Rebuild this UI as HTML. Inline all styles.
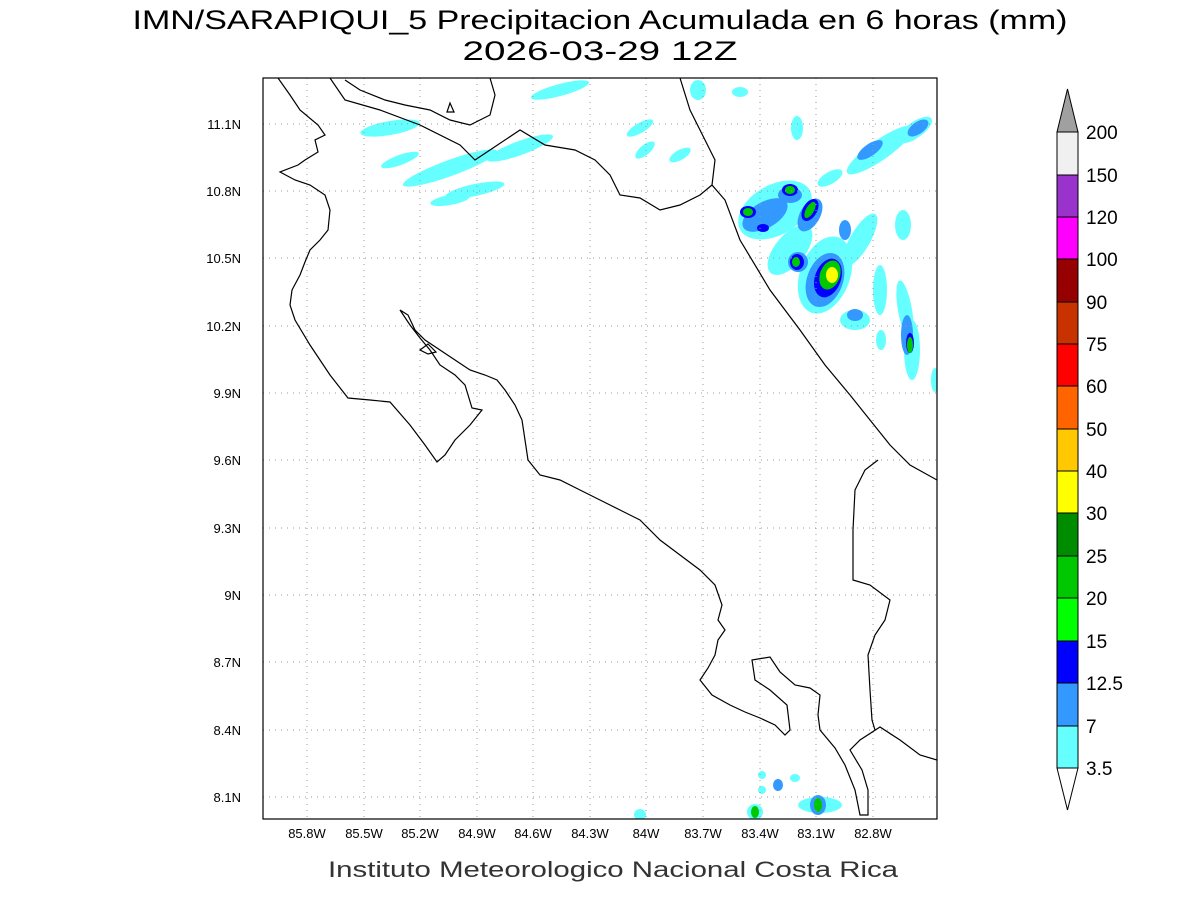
<!DOCTYPE html>
<html><head><meta charset="utf-8"><style>
body{margin:0;background:#fff;width:1200px;height:900px;overflow:hidden}
svg{display:block}
text{font-family:"Liberation Sans",sans-serif}
</style></head><body>
<svg width="1200" height="900" viewBox="0 0 1200 900">
<text x="600" y="29" text-anchor="middle" font-size="27" fill="#000" textLength="935" lengthAdjust="spacingAndGlyphs">IMN/SARAPIQUI_5 Precipitacion Acumulada en 6 horas (mm)</text>
<text x="600" y="60" text-anchor="middle" font-size="27" textLength="275" lengthAdjust="spacingAndGlyphs">2026-03-29 12Z</text>
<defs><clipPath id="c"><rect x="263" y="78" width="674" height="741"/></clipPath></defs>
<g clip-path="url(#c)">
<g fill="#66ffff">
<ellipse cx="390" cy="128" rx="30" ry="7" transform="rotate(-10 390 128)"/>
<ellipse cx="400" cy="160" rx="20" ry="5" transform="rotate(-20 400 160)"/>
<ellipse cx="450" cy="168" rx="50" ry="8" transform="rotate(-20 450 168)"/>
<ellipse cx="520" cy="148" rx="35" ry="7" transform="rotate(-20 520 148)"/>
<ellipse cx="475" cy="190" rx="30" ry="6" transform="rotate(-12 475 190)"/>
<ellipse cx="450" cy="200" rx="20" ry="5" transform="rotate(-10 450 200)"/>
<ellipse cx="560" cy="90" rx="30" ry="6" transform="rotate(-15 560 90)"/>
<ellipse cx="640" cy="128" rx="15" ry="5" transform="rotate(-30 640 128)"/>
<ellipse cx="645" cy="150" rx="12" ry="5" transform="rotate(-40 645 150)"/>
<ellipse cx="680" cy="155" rx="12" ry="5" transform="rotate(-30 680 155)"/>
<ellipse cx="698" cy="90" rx="8" ry="10"/>
<ellipse cx="740" cy="92" rx="8" ry="5"/>
<ellipse cx="797" cy="128" rx="6" ry="12"/>
<ellipse cx="830" cy="178" rx="14" ry="6" transform="rotate(-30 830 178)"/>
<ellipse cx="880" cy="150" rx="40" ry="10" transform="rotate(-35 880 150)"/>
<ellipse cx="915" cy="130" rx="20" ry="8" transform="rotate(-35 915 130)"/>
<ellipse cx="775" cy="210" rx="40" ry="25" transform="rotate(-30 775 210)"/>
<ellipse cx="790" cy="250" rx="30" ry="15" transform="rotate(-50 790 250)"/>
<ellipse cx="825" cy="275" rx="25" ry="40" transform="rotate(20 825 275)"/>
<ellipse cx="860" cy="240" rx="10" ry="30" transform="rotate(30 860 240)"/>
<ellipse cx="880" cy="290" rx="7" ry="25"/>
<ellipse cx="905" cy="310" rx="7" ry="30" transform="rotate(-10 905 310)"/>
<ellipse cx="912" cy="350" rx="8" ry="30"/>
<ellipse cx="855" cy="320" rx="15" ry="10"/>
<ellipse cx="903" cy="225" rx="8" ry="15"/>
<ellipse cx="935" cy="380" rx="4" ry="12"/>
<ellipse cx="881" cy="340" rx="5" ry="10"/>
<ellipse cx="640" cy="815" rx="6" ry="6"/>
<ellipse cx="755" cy="812" rx="8" ry="8"/>
<ellipse cx="762" cy="790" rx="4" ry="4"/><ellipse cx="762" cy="775" rx="4" ry="4"/>
<ellipse cx="795" cy="778" rx="5" ry="4"/>
<ellipse cx="820" cy="805" rx="22" ry="8"/>
</g>
<g fill="#3399ff">
<ellipse cx="765" cy="215" rx="25" ry="13" transform="rotate(-30 765 215)"/>
<ellipse cx="790" cy="195" rx="12" ry="8"/>
<ellipse cx="810" cy="215" rx="10" ry="18" transform="rotate(30 810 215)"/>
<ellipse cx="825" cy="280" rx="18" ry="28" transform="rotate(20 825 280)"/>
<ellipse cx="798" cy="262" rx="10" ry="10"/>
<ellipse cx="845" cy="230" rx="6" ry="10"/>
<ellipse cx="907" cy="335" rx="6" ry="20"/>
<ellipse cx="870" cy="150" rx="15" ry="6" transform="rotate(-35 870 150)"/>
<ellipse cx="918" cy="128" rx="12" ry="6" transform="rotate(-35 918 128)"/>
<ellipse cx="855" cy="315" rx="8" ry="6"/>
<ellipse cx="778" cy="785" rx="5" ry="6"/>
<ellipse cx="818" cy="805" rx="8" ry="10"/>
</g>
<g fill="#0000ff">
<ellipse cx="748" cy="212" rx="8" ry="6"/><ellipse cx="790" cy="190" rx="8" ry="6"/>
<ellipse cx="810" cy="210" rx="7" ry="12" transform="rotate(30 810 210)"/>
<ellipse cx="828" cy="278" rx="13" ry="20" transform="rotate(20 828 278)"/>
<ellipse cx="797" cy="262" rx="7" ry="8"/><ellipse cx="910" cy="343" rx="4" ry="10"/>
<ellipse cx="763" cy="228" rx="6" ry="4"/>
</g>
<g fill="#00c800">
<ellipse cx="748" cy="212" rx="5" ry="4"/><ellipse cx="790" cy="190" rx="5" ry="4"/>
<ellipse cx="810" cy="210" rx="4" ry="9" transform="rotate(30 810 210)"/>
<ellipse cx="830" cy="275" rx="10" ry="15" transform="rotate(20 830 275)"/>
<ellipse cx="796" cy="262" rx="4" ry="5"/><ellipse cx="910" cy="345" rx="3" ry="8"/>
<ellipse cx="755" cy="812" rx="4" ry="6"/><ellipse cx="818" cy="805" rx="4" ry="7"/>
</g>
<ellipse cx="832" cy="275" rx="6" ry="8" fill="#ffff00"/>
<g stroke="#999" stroke-dasharray="1,5" stroke-width="1">
<path d="M307 78V819M364 78V819M420 78V819M477 78V819M533 78V819M590 78V819M646 78V819M703 78V819M760 78V819M816 78V819M873 78V819"/>
<path d="M263 124H937M263 191H937M263 258H937M263 326H937M263 393H937M263 460H937M263 528H937M263 595H937M263 662H937M263 730H937M263 797H937"/>
</g>
<g fill="none" stroke="#000" stroke-width="1.2">
<polyline points="278,78 290,95 300,110 318,125 325,135 315,140 318,152 305,160 298,165 280,172 295,180 310,185 325,195 330,210 328,230 320,240 310,250 305,262 300,275 292,290 290,305 295,320 310,345 330,375 348,398 370,400 390,402 410,425 425,445 437,462 445,455 455,440 470,425 482,410 472,408 465,385 455,375 440,365 430,350 420,338 410,325 400,310 408,315 415,330 425,340 440,350 455,360 470,370 485,375 497,380 505,390 515,405 522,420 525,440 528,460 540,475 560,480 580,490 600,500 620,510 640,520 660,540 680,555 700,570 715,585 722,605 718,620 725,630 718,640 715,655 708,668 700,680 712,695 730,705 745,712 760,718 775,725 785,735 790,730 787,705 770,690 755,680 752,660 770,657 780,672 795,685 810,688 820,695 818,715 820,730 835,748 845,765 855,790 860,815 868,815 868,790 862,770 850,750 860,740 880,727 900,740 920,755 937,760"/>
<polyline points="878,460 865,470 855,490 853,530 853,580 870,585 890,600 885,620 875,635 868,655 870,690 872,720 875,730"/>
<polyline points="680,78 690,110 705,140 715,160 712,185 725,200 740,240 770,290 800,330 825,365 850,395 870,420 890,445 910,465 937,480"/>
<polyline points="330,78 345,100 380,110 420,125 460,145 475,160 490,150 520,130 545,145 575,150 595,160 610,175 620,195 640,198 660,210 680,205 700,195 712,185"/>
<polyline points="345,80 360,90 385,100 405,105 430,110 450,120 470,125 490,115 495,95 490,78"/>
<polygon points="420,350 428,344 436,352 428,354"/>
<polygon points="450,103 454,112 447,112"/>
</g>
</g>
<rect x="263" y="78" width="674" height="741" fill="none" stroke="#000" stroke-width="1.2"/>
<g font-size="13" fill="#000" text-anchor="middle">
<text x="307" y="838">85.8W</text><text x="364" y="838">85.5W</text><text x="420" y="838">85.2W</text><text x="477" y="838">84.9W</text><text x="533" y="838">84.6W</text><text x="590" y="838">84.3W</text><text x="646" y="838">84W</text><text x="703" y="838">83.7W</text><text x="760" y="838">83.4W</text><text x="816" y="838">83.1W</text><text x="873" y="838">82.8W</text>
</g>
<g font-size="13" fill="#000" text-anchor="end">
<text x="241" y="129">11.1N</text><text x="241" y="196">10.8N</text><text x="241" y="263">10.5N</text><text x="241" y="331">10.2N</text><text x="241" y="398">9.9N</text><text x="241" y="465">9.6N</text><text x="241" y="533">9.3N</text><text x="241" y="600">9N</text><text x="241" y="667">8.7N</text><text x="241" y="735">8.4N</text><text x="241" y="802">8.1N</text>
</g>
<text x="613" y="877" text-anchor="middle" font-size="22" fill="#333" textLength="570" lengthAdjust="spacingAndGlyphs">Instituto Meteorologico Nacional Costa Rica</text>
<g stroke="#000" stroke-width="1">
<polygon points="1057,768 1078,768 1067.5,810" fill="#fff"/>
<rect x="1057" y="726" width="21" height="42" fill="#66ffff"/>
<rect x="1057" y="683" width="21" height="43" fill="#3399ff"/>
<rect x="1057" y="641" width="21" height="42" fill="#0000ff"/>
<rect x="1057" y="598" width="21" height="43" fill="#00ff00"/>
<rect x="1057" y="556" width="21" height="42" fill="#00c800"/>
<rect x="1057" y="513" width="21" height="43" fill="#008c00"/>
<rect x="1057" y="471" width="21" height="42" fill="#ffff00"/>
<rect x="1057" y="429" width="21" height="42" fill="#ffc800"/>
<rect x="1057" y="386" width="21" height="43" fill="#ff6400"/>
<rect x="1057" y="344" width="21" height="42" fill="#ff0000"/>
<rect x="1057" y="302" width="21" height="42" fill="#c83200"/>
<rect x="1057" y="259" width="21" height="43" fill="#960000"/>
<rect x="1057" y="217" width="21" height="42" fill="#ff00ff"/>
<rect x="1057" y="175" width="21" height="42" fill="#9933cc"/>
<rect x="1057" y="132" width="21" height="43" fill="#f0f0f0"/>
<polygon points="1057,132 1078,132 1067.5,89" fill="#a0a0a0"/>
</g>
<g font-size="19" fill="#000">
<text x="1086" y="775">3.5</text><text x="1086" y="733">7</text><text x="1086" y="690">12.5</text><text x="1086" y="648">15</text><text x="1086" y="605">20</text><text x="1086" y="563">25</text><text x="1086" y="520">30</text><text x="1086" y="478">40</text><text x="1086" y="436">50</text><text x="1086" y="393">60</text><text x="1086" y="351">75</text><text x="1086" y="309">90</text><text x="1086" y="266">100</text><text x="1086" y="224">120</text><text x="1086" y="182">150</text><text x="1086" y="139">200</text>
</g>
</svg>
</body></html>
